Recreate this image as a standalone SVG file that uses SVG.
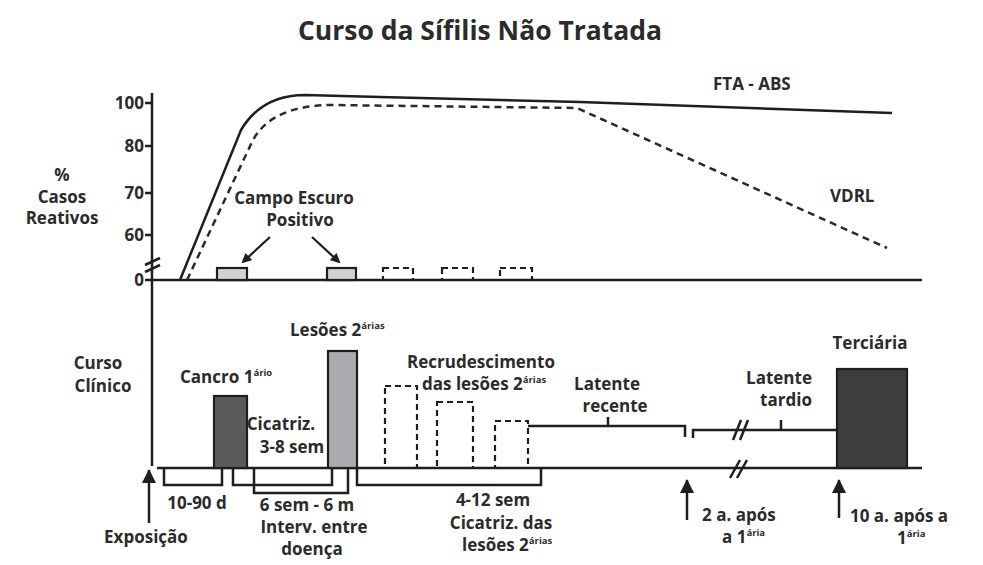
<svg xmlns="http://www.w3.org/2000/svg" width="983" height="565" viewBox="0 0 983 565">
<style>
text{font-family:"Open Sans","Noto Sans","Liberation Sans",sans-serif;font-weight:700;fill:#2b2b2b;font-size:17px}
.t{font-size:26.5px;font-weight:700}
.m{text-anchor:middle}
.e{text-anchor:end}
.sup{font-size:9.5px}
.ln{fill:none;stroke:#1e1e1e;stroke-width:2.5}
.dash{fill:none;stroke:#2a2a2a;stroke-width:2.5;stroke-dasharray:7,5}
.dbox{fill:none;stroke:#1e1e1e;stroke-width:2.2;stroke-dasharray:6,4}
.box{stroke:#1e1e1e;stroke-width:2.2}
</style>
<defs>
<marker id="ah" markerWidth="10" markerHeight="10" refX="8" refY="5" orient="auto" markerUnits="userSpaceOnUse" viewBox="0 0 10 10">
<path d="M0,0 L10,5 L0,10 Z" fill="#1e1e1e"/>
</marker>
<marker id="ahb" markerWidth="14" markerHeight="16" refX="13" refY="7" orient="auto" markerUnits="userSpaceOnUse" viewBox="0 0 14 14">
<path d="M0,0 L14,7 L0,14 Z" fill="#1e1e1e"/>
</marker>
</defs>
<rect width="983" height="565" fill="#ffffff"/>
<text class="t m" x="480" y="40">Curso da Sífilis Não Tratada</text>

<g id="axes">
<line class="ln" x1="152" y1="93" x2="152" y2="466"/>
<line class="ln" x1="145" y1="103" x2="152" y2="103"/>
<line class="ln" x1="145" y1="146" x2="152" y2="146"/>
<line class="ln" x1="145" y1="193" x2="152" y2="193"/>
<line class="ln" x1="145" y1="235" x2="152" y2="235"/>
<line class="ln" x1="145" y1="280" x2="152" y2="280"/>
<line class="ln" x1="152" y1="280" x2="922" y2="280"/>
<line class="ln" x1="145" y1="265" x2="160" y2="258" stroke-width="2"/>
<line class="ln" x1="145" y1="272" x2="160" y2="265" stroke-width="2"/>
<text class="e" x="144" y="109">100</text>
<text class="e" x="144" y="152">80</text>
<text class="e" x="144" y="199">70</text>
<text class="e" x="144" y="241">60</text>
<text class="e" x="144" y="286">0</text>
<text class="m" x="62" y="181">%</text>
<text class="m" x="62" y="203">Casos</text>
<text class="m" x="62" y="224">Reativos</text>
</g>

<g id="curves">
<path class="ln" d="M180,280 L241,130 Q262,95 305,95 L380,97 L580,102 L892,113"/>
<path class="dash" d="M187,280 L252,142 Q270,106 330,105 L577,108 L887,248"/>
<text x="713" y="90">FTA - ABS</text>
<text x="830" y="202">VDRL</text>
</g>

<g id="campo-escuro">
<text class="m" x="294" y="204">Campo Escuro</text>
<text class="m" x="300" y="226">Positivo</text>
<rect class="box" x="217" y="268" width="30" height="12" fill="#d2d2d2"/>
<rect class="box" x="327" y="268" width="29" height="12" fill="#d2d2d2"/>
<rect class="dbox" x="383" y="268" width="30" height="12"/>
<rect class="dbox" x="442" y="268" width="31" height="12"/>
<rect class="dbox" x="500" y="268" width="32" height="12"/>
</g>

<g id="connectors">
<line x1="270" y1="237" x2="243" y2="262" stroke="#1e1e1e" stroke-width="2.2" marker-end="url(#ah)"/>
<line x1="312" y1="237" x2="339" y2="262" stroke="#1e1e1e" stroke-width="2.2" marker-end="url(#ah)"/>
<line x1="149" y1="523" x2="149" y2="470" stroke="#1e1e1e" stroke-width="2.5" marker-end="url(#ahb)"/>
<line x1="687" y1="520" x2="687" y2="480" stroke="#1e1e1e" stroke-width="2.5" marker-end="url(#ahb)"/>
<line x1="839" y1="518" x2="839" y2="480" stroke="#1e1e1e" stroke-width="2.5" marker-end="url(#ahb)"/>
</g>

<g id="clinical-axis">
<text class="m" x="98" y="369">Curso</text>
<text class="m" x="103" y="392">Clínico</text>
<line class="ln" x1="157" y1="468" x2="922" y2="468"/>
<line class="ln" x1="730" y1="478" x2="740" y2="460" stroke-width="2"/>
<line class="ln" x1="737" y1="478" x2="747" y2="460" stroke-width="2"/>
</g>

<g id="cancro">
<rect class="box" x="214" y="396" width="33" height="72" fill="#5b5b5e"/>
<text x="180" y="383">Cancro 1<tspan class="sup" dy="-7">ário</tspan></text>
</g>

<g id="cicatriz">
<text class="m" x="281" y="430">Cicatriz.</text>
<text class="m" x="292" y="453">3-8 sem</text>
</g>

<g id="lesoes">
<rect class="box" x="328" y="351" width="29" height="117" fill="#a9aaad"/>
<text x="290" y="336">Lesões 2<tspan class="sup" dy="-7">árias</tspan></text>
</g>

<g id="recrudescimento">
<rect class="dbox" x="385" y="386" width="32" height="82"/>
<rect class="dbox" x="437" y="402" width="36" height="66"/>
<rect class="dbox" x="495" y="421" width="33" height="47"/>
<text class="m" x="481" y="368">Recrudescimento</text>
<text x="422" y="390">das lesões 2<tspan class="sup" dy="-7">árias</tspan></text>
</g>

<g id="latente-recente">
<path class="ln" d="M528,426 H685 V437"/>
<line class="ln" x1="608" y1="426" x2="608" y2="417" stroke-width="2"/>
<text class="m" x="607" y="390">Latente</text>
<text class="m" x="615" y="412">recente</text>
</g>

<g id="latente-tardio">
<path class="ln" d="M693,438 V430 H837"/>
<line class="ln" x1="733" y1="440" x2="741" y2="420" stroke-width="2"/>
<line class="ln" x1="740" y1="440" x2="748" y2="420" stroke-width="2"/>
<line class="ln" x1="781" y1="430" x2="781" y2="420" stroke-width="2"/>
<text class="m" x="779" y="384">Latente</text>
<text class="m" x="786" y="406">tardio</text>
</g>

<g id="terciaria">
<rect class="box" x="837" y="369" width="70" height="99" fill="#3d3d40"/>
<text class="m" x="870" y="349">Terciária</text>
</g>

<g id="brackets">
<path class="ln" d="M164,469 V485 H222 V469"/>
<path class="ln" d="M233,469 V485 H332 V469"/>
<path class="ln" d="M254,469 V493 H348 V469"/>
<path class="ln" d="M357,469 V485 H541 V469"/>
</g>

<g id="labels-bottom">
<text class="m" x="197" y="509">10-90 d</text>
<text class="m" x="307" y="511">6 sem - 6 m</text>
<text class="m" x="314" y="533">Interv. entre</text>
<text class="m" x="312" y="555">doença</text>
<text class="m" x="493" y="506">4-12 sem</text>
<text class="m" x="501" y="529">Cicatriz. das</text>
<text x="462" y="551">lesões 2<tspan class="sup" dy="-7">árias</tspan></text>
<text class="m" x="146" y="543">Exposição</text>
<text x="702" y="521">2 a. após</text>
<text x="722" y="543">a 1<tspan class="sup" dy="-7">ária</tspan></text>
<text x="850" y="522">10 a. após a</text>
<text x="897" y="544">1<tspan class="sup" dy="-7">ária</tspan></text>
</g>
</svg>
